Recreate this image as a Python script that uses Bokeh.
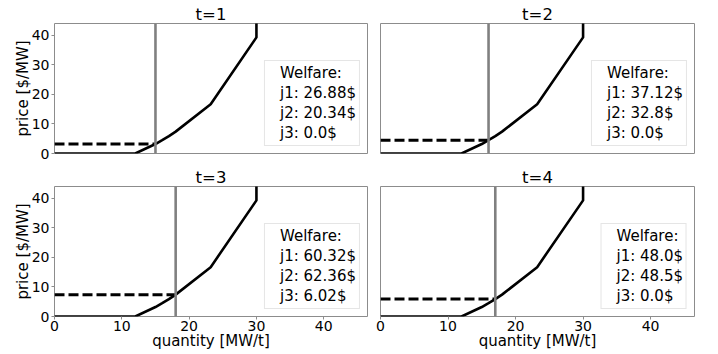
from bokeh.plotting import figure
from bokeh.layouts import column, row
from bokeh.models import Span, Legend, LegendItem, SingleIntervalTicker, Range1d
from bokeh.embed import file_html
from bokeh.resources import INLINE

# ---- data ----
supply_q = [0, 12, 15, 16, 17, 18, 23.2, 30, 30]
supply_p = [0, 0, 3.2, 4.5, 5.9, 7.4, 16.7, 39.3, 60]
periods = ["t=1", "t=2", "t=3", "t=4"]
cleared_q = [15, 16, 18, 17]
cleared_p = [3.2, 4.5, 7.4, 5.9]
welfare_j1 = [26.88, 37.12, 60.32, 48.0]
welfare_j2 = [20.34, 32.8, 62.36, 48.5]
welfare_j3 = [0.0, 0.0, 6.02, 0.0]
x_lim = (0, 46.5)
y_lim = (0, 44)

FONT = "DejaVu Sans"
SPINE = "#8c8c8c"


def make(i, left, bottom):
    w = 373 if left else 341
    h = 189 if bottom else 163
    p = figure(width=w, height=h, output_backend="svg", toolbar_location=None,
               x_range=Range1d(*x_lim), y_range=Range1d(*y_lim),
               min_border_left=54 if left else 7,
               min_border_right=6 if left else 20,
               min_border_top=23,
               min_border_bottom=36 if bottom else 10)
    p.title.text = periods[i]
    p.title.align = "center"
    p.title.text_font = FONT
    p.title.text_font_size = "16.5px"
    p.title.text_font_style = "normal"
    p.title.text_color = "black"
    p.title.standoff = 0
    p.xgrid.visible = False
    p.ygrid.visible = False
    p.outline_line_color = SPINE
    p.outline_line_width = 1
    p.background_fill_color = "white"
    p.border_fill_color = "white"

    for ax in (p.xaxis[0], p.yaxis[0]):
        ax.ticker = SingleIntervalTicker(interval=10, num_minor_ticks=0)
        ax.axis_line_color = None
        ax.major_tick_line_color = SPINE
        ax.major_tick_out = 3
        ax.major_tick_in = 0
        ax.minor_tick_line_color = None
        ax.major_label_text_font = FONT
        ax.major_label_text_font_size = "14px"
        ax.major_label_text_color = "black"
        ax.axis_label_text_font = FONT
        ax.axis_label_text_font_size = "15px"
        ax.axis_label_text_font_style = "normal"
        ax.axis_label_text_color = "black"
    p.xaxis.major_label_standoff = 1
    p.xaxis.axis_label_standoff = -2
    p.yaxis.major_label_standoff = 2
    p.yaxis.axis_label_standoff = -3

    if bottom:
        p.xaxis.axis_label = "quantity [MW/t]"
    else:
        p.xaxis.visible = False
    if left:
        p.yaxis.axis_label = "price [$/MW]"
    else:
        p.yaxis.visible = False

    # supply curve
    p.line(supply_q, supply_p, line_color="black", line_width=2.6)
    # market clearing
    p.line([x_lim[0], cleared_q[i]], [cleared_p[i], cleared_p[i]],
           line_color="black", line_width=3, line_dash="10 4")
    p.add_layout(Span(location=cleared_q[i], dimension="height",
                      line_color="gray", line_width=2.6))

    # welfare legend (text only)
    dummy = p.line(x=[], y=[], line_alpha=0)
    labels = ["Welfare:",
              f"j1: {welfare_j1[i]}$",
              f"j2: {welfare_j2[i]}$",
              f"j3: {welfare_j3[i]}$"]
    items = [LegendItem(label=t, renderers=[dummy]) for t in labels]
    leg = Legend(items=items, location="bottom_right", margin=7, padding=3,
                 spacing=2, glyph_height=17, glyph_width=8, label_height=17,
                 label_standoff=4, label_text_font=FONT,
                 label_text_font_size="15px", label_text_color="black",
                 background_fill_color="white", background_fill_alpha=0.8,
                 border_line_color="#cccccc", border_line_width=1)
    p.add_layout(leg, "center")
    return p


f1 = make(0, True, False)
f2 = make(1, False, False)
f3 = make(2, True, True)
f4 = make(3, False, True)

layout = column(row(f1, f2), row(f3, f4))

open("out.html", "w").write(file_html(layout, INLINE))
